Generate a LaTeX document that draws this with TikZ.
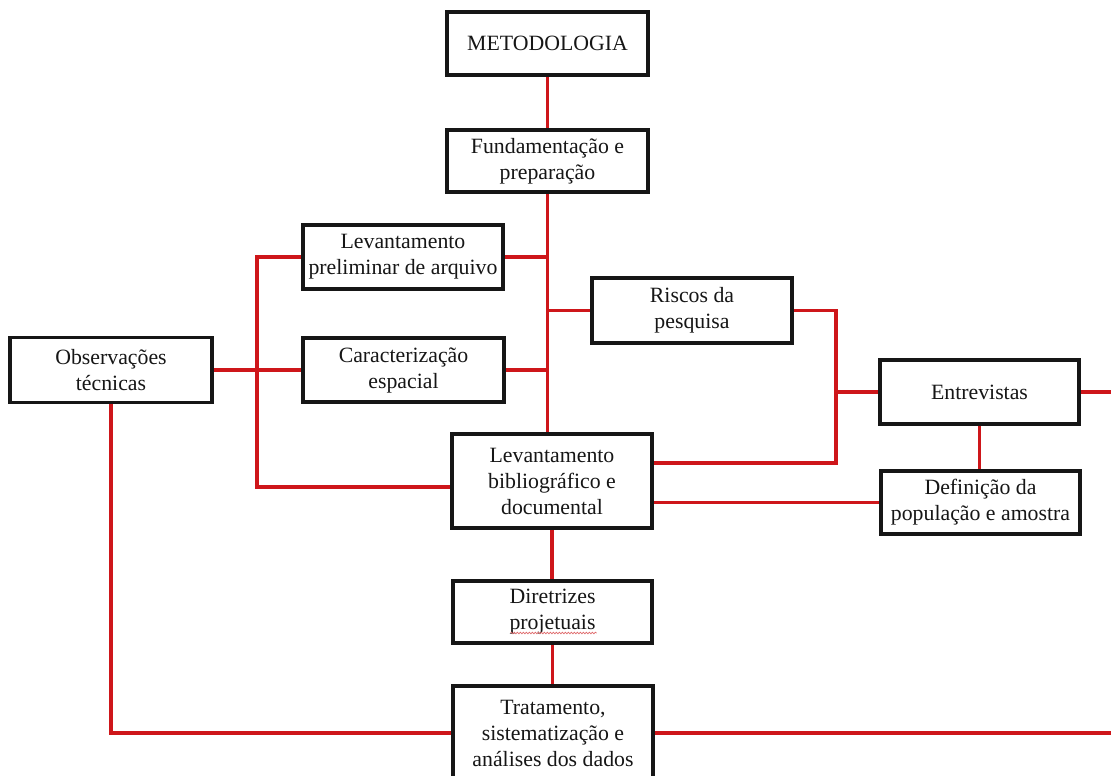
\documentclass[tikz,border=0pt]{standalone}
\usepackage{fontspec}
\setmainfont{Liberation Serif}
\usetikzlibrary{backgrounds,decorations.pathmorphing}
\definecolor{linkred}{RGB}{206,22,26}
\definecolor{inkblack}{RGB}{22,22,22}
\begin{document}
\begin{tikzpicture}[x=1pt,y=-1pt,
  box/.style={draw=inkblack, line width=3.4pt, fill=white, align=center,
    inner sep=0pt, text=inkblack, font=\fontsize{21.8}{26}\selectfont},
  link/.style={draw=linkred, line width=3.2pt},
  squiggle/.style={draw=linkred!65, line width=0.7pt, decorate,
    decoration={snake, amplitude=0.8pt, segment length=3pt}}]
\clip (0,0) rectangle (1111,776);

% boxes
\node[box, minimum width=201pt, minimum height=63pt] (met)   at (547.5,43.5) {METODOLOGIA};
\node[box, minimum width=201pt, minimum height=62pt] (fund)  at (547.5,161)  {Fundamentação e\\preparação};
\node[box, minimum width=200pt, minimum height=64pt] (prel)  at (403,257)    {Levantamento\\preliminar de arquivo};
\node[box, minimum width=201pt, minimum height=64pt] (carac) at (403.5,370)  {Caracterização\\espacial};
\node[box, minimum width=202pt, minimum height=65pt] (obs)   at (111,370)    {Observações\\técnicas};
\node[box, minimum width=200pt, minimum height=65pt] (risc)  at (692,310.5)  {Riscos da\\pesquisa};
\node[box, minimum width=199pt, minimum height=64pt] (entr)  at (979.5,392)  {Entrevistas};
\node[box, minimum width=199pt, minimum height=63pt] (def)   at (980.5,502.5){Definição da\\população e amostra};
\node[box, minimum width=200pt, minimum height=94pt] (bib)   at (552,481)    {Levantamento\\bibliográfico e\\documental};
\node[box, minimum width=199pt, minimum height=62pt] (dir)   at (552.5,612)  {Diretrizes\\projetuais};
\node[box, minimum width=200pt, minimum height=94pt] (trat)  at (553,733)    {Tratamento,\\sistematização e\\análises dos dados};

% spell-check underline under "projetuais"
\draw[squiggle] ([shift={(-42,21)}]dir.center) -- ([shift={(44,21)}]dir.center);

% bus corners and free ends
\coordinate (lb) at (257,487);
\coordinate (rb) at (836,463);
\coordinate (ea) at (1111,392);
\coordinate (eb) at (1111,730);

\begin{scope}[on background layer]
  \fill[white] (0,0) rectangle (1111,776);
  % central trunk
  \draw[link] (met.south) -- (fund.north);
  \draw[link] (fund.south) -- (fund.south |- bib.north);
  \draw[link] (prel.east) -- (prel.east -| fund.south);
  \draw[link] (carac.east) -- (carac.east -| fund.south);
  \draw[link] (risc.west -| fund.south) -- (risc.west);
  % left bus
  \draw[link] (prel.west) -| (lb) -- (bib.west |- lb);
  \draw[link] (obs.east) -- (obs.east -| carac.west);
  % right bus
  \draw[link] (risc.east) -| (rb) -- (bib.east |- rb);
  \draw[link] (rb |- entr.west) -- (entr.west);
  \draw[link] (entr.south) -- (entr.south |- def.north);
  \draw[link] (bib.east |- def.west) -- (def.west);
  % lower chain
  \draw[link] (bib.south) -- (bib.south |- dir.north);
  \draw[link] (dir.south) -- (dir.south |- trat.north);
  \draw[link] (obs.south) |- (trat.west);
  % lines running off to the right
  \draw[link] (entr.east) -- (entr.east -| ea);
  \draw[link] (trat.east) -- (trat.east -| eb);
\end{scope}
\end{tikzpicture}
\end{document}
